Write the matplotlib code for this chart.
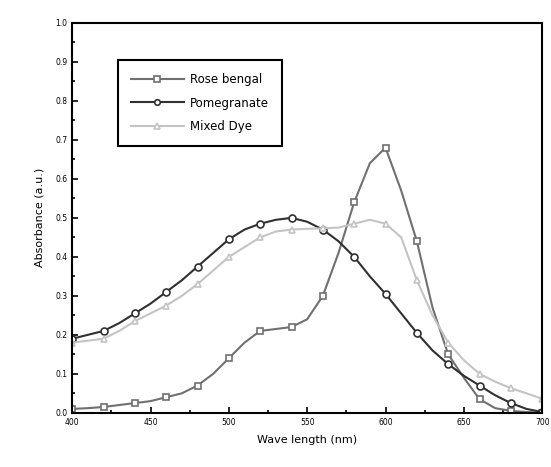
#imports
import numpy as np
import matplotlib.pyplot as plt
from matplotlib.ticker import MultipleLocator

#data (10 nm steps, markers every 20 nm)
wl = np.arange(400, 701, 10)
rose = [0.010, 0.012, 0.015, 0.020, 0.025, 0.030, 0.040, 0.050, 0.070, 0.100,
        0.140, 0.180, 0.210, 0.215, 0.220, 0.240, 0.300, 0.410, 0.540, 0.640,
        0.680, 0.570, 0.440, 0.270, 0.150, 0.090, 0.035, 0.012, 0.005, 0.002, 0.000]
pome = [0.190, 0.200, 0.210, 0.230, 0.255, 0.280, 0.310, 0.340, 0.375, 0.410,
        0.445, 0.470, 0.485, 0.495, 0.500, 0.490, 0.470, 0.440, 0.400, 0.350,
        0.305, 0.255, 0.205, 0.160, 0.125, 0.095, 0.070, 0.045, 0.025, 0.010, 0.002]
mixed = [0.180, 0.185, 0.190, 0.210, 0.235, 0.255, 0.275, 0.300, 0.330, 0.365,
         0.400, 0.425, 0.450, 0.465, 0.470, 0.472, 0.473, 0.475, 0.485, 0.495,
         0.485, 0.450, 0.340, 0.250, 0.180, 0.135, 0.100, 0.080, 0.063, 0.050, 0.036]

#figure
fig = plt.figure(figsize=(5.51, 4.67), dpi=100)
ax = fig.add_axes([0.131, 0.116, 0.853, 0.835])

ax.plot(wl, rose, '-s', color='#707070', lw=1.5, ms=5, mfc='white', mew=1.2,
        markevery=2, label='Rose bengal')
ax.plot(wl, pome, '-o', color='#303030', lw=1.5, ms=5, mfc='white', mew=1.2,
        markevery=2, label='Pomegranate')
ax.plot(wl, mixed, '-^', color='#c4c4c4', lw=1.5, ms=5, mfc='white', mew=1.2,
        markevery=2, label='Mixed Dye')

ax.set_xlim(400, 700)
ax.set_ylim(0.0, 1.0)
ax.xaxis.set_major_locator(MultipleLocator(50))
ax.xaxis.set_minor_locator(MultipleLocator(25))
ax.yaxis.set_major_locator(MultipleLocator(0.1))
ax.yaxis.set_minor_locator(MultipleLocator(0.05))
ax.tick_params(which='both', direction='in', labelsize=5.5, width=1.2)
ax.tick_params(which='major', length=4)
ax.tick_params(which='minor', length=2.5)
ax.set_yticklabels(['%.1f' % v for v in ax.get_yticks()])
for s in ax.spines.values():
    s.set_linewidth(1.5)

ax.set_xlabel('Wave length (nm)', fontsize=8, labelpad=6)
ax.set_ylabel('Absorbance (a.u.)', fontsize=8, labelpad=8)

leg = ax.legend(loc='upper left', bbox_to_anchor=(0.097, 0.905), fontsize=8.5,
                fancybox=False, edgecolor='black', framealpha=1,
                handlelength=4.5, borderpad=1.1, labelspacing=0.9,
                markerscale=0.8, borderaxespad=0, handletextpad=0.5)
leg.get_frame().set_linewidth(1.5)

fig.savefig('out.png', dpi=100)
